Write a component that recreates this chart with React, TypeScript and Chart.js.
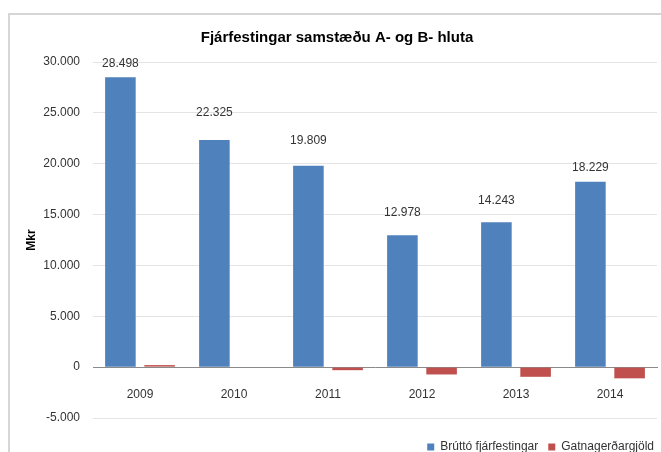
import React, { useEffect, useRef } from 'react';
import { Chart, registerables } from 'chart.js';

Chart.register(...registerables);

// ---- data ----
const years = ['2009', '2010', '2011', '2012', '2013', '2014'];
const grossInvestment = [28498, 22325, 19809, 12978, 14243, 18229];
const streetFees = [200, 0, -300, -720, -950, -1100];
const seriesNames = ['Brúttó fjárfestingar', 'Gatnagerðargjöld'];
const chartTitle = 'Fjárfestingar samstæðu A- og B- hluta';
const yAxisTitle = 'Mkr';
const yMin = -5000;
const yMax = 30000;
const yStep = 5000;

// label lift above bar top (px), as placed in the original
const labelLift = [14, 27, 25, 22, 22, 14];

const FONT = '"Liberation Sans", Arial, sans-serif';
const TEXT = '#333333';

function fmt(n: number): string {
  const s = Math.abs(Math.round(n))
    .toString()
    .replace(/\B(?=(\d{3})+(?!\d))/g, '.');
  return (n < 0 ? '-' : '') + s;
}

const valueLabels = {
  id: 'valueLabels',
  afterDatasetsDraw(chart: any) {
    const ctx = chart.ctx;
    const meta = chart.getDatasetMeta(0);
    ctx.save();
    ctx.font = `12px ${FONT}`;
    ctx.fillStyle = TEXT;
    ctx.textAlign = 'center';
    ctx.textBaseline = 'middle';
    meta.data.forEach((bar: any, i: number) => {
      ctx.fillText(fmt(grossInvestment[i]), bar.x, bar.y - labelLift[i]);
    });
    ctx.restore();
  },
};

export default function App() {
  const ref = useRef<HTMLCanvasElement | null>(null);

  useEffect(() => {
    if (!ref.current) return;
    const chart = new Chart(ref.current, {
      type: 'bar',
      data: {
        labels: years,
        datasets: [
          {
            label: seriesNames[0],
            data: grossInvestment,
            backgroundColor: '#4f81bd',
            categoryPercentage: 0.834,
            barPercentage: 0.78,
          },
          {
            label: seriesNames[1],
            data: streetFees,
            backgroundColor: '#c0504d',
            categoryPercentage: 0.834,
            barPercentage: 0.78,
          },
        ],
      },
      options: {
        responsive: false,
        animation: false,
        devicePixelRatio: 1,
        layout: { padding: { left: 0, right: 8, top: 0, bottom: 2 } },
        plugins: {
          title: {
            display: true,
            text: chartTitle,
            color: '#000000',
            font: { family: FONT, size: 15, weight: 'bold' },
            padding: { top: 14, bottom: 15 },
          },
          legend: {
            position: 'bottom',
            align: 'end',
            title: {
              display: true,
              text: '',
              font: { family: FONT, size: 10 },
              padding: { top: 1, bottom: 0 },
            },
            labels: {
              boxWidth: 7,
              boxHeight: 7,
              color: TEXT,
              font: { family: FONT, size: 12 },
              padding: 10,
            },
          },
          tooltip: { enabled: false },
        },
        scales: {
          x: {
            position: { y: 0 } as any,
            grid: { display: false, drawTicks: false },
            border: { display: true, color: '#8a8a8a', width: 1 },
            ticks: {
              color: TEXT,
              font: { family: FONT, size: 12 },
              padding: 20,
            },
          },
          y: {
            min: yMin,
            max: yMax,
            afterFit: (s: any) => {
              s.width = 83;
            },
            grid: { color: '#e4e4e4', drawTicks: false },
            border: { display: false },
            ticks: {
              stepSize: yStep,
              color: TEXT,
              font: { family: FONT, size: 12 },
              padding: 13,
              callback: (v: any) => fmt(Number(v)),
            },
            title: {
              display: true,
              text: yAxisTitle,
              color: '#000000',
              font: { family: FONT, size: 12, weight: 'bold' },
              padding: { top: 14, bottom: 0 },
            },
          },
          yRight: {
            position: 'right',
            display: true,
            afterFit: (s: any) => {
              s.width = 7;
            },
            grid: { display: false, drawTicks: false },
            border: { display: false },
            ticks: { display: false },
          },
        },
      },
      plugins: [valueLabels],
    });
    return () => chart.destroy();
  }, []);

  return (
    <div
      style={{
        position: 'fixed',
        left: 0,
        top: 0,
        width: 661,
        height: 452,
        overflow: 'hidden',
        background: '#ffffff',
      }}
    >
      <div
        style={{
          position: 'absolute',
          left: 8,
          top: 13,
          width: 720,
          height: 520,
          borderTop: '2px solid #d6d6d6',
          borderLeft: '2px solid #d6d6d6',
        }}
      />
      <canvas
        ref={ref}
        width={662}
        height={450}
        style={{ position: 'absolute', left: 10, top: 15, width: 662, height: 450 }}
      />
    </div>
  );
}
